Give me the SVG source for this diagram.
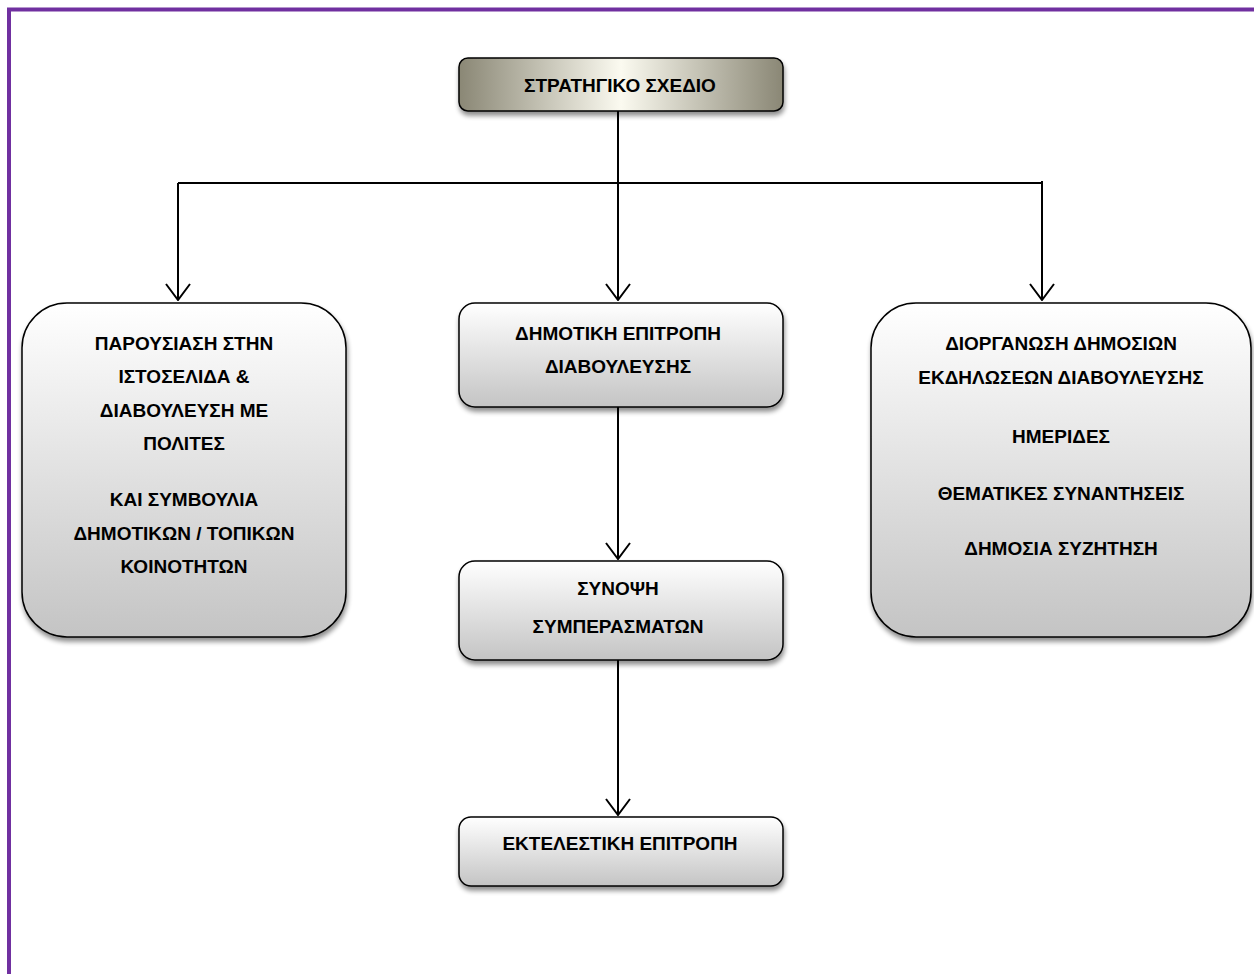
<svg xmlns="http://www.w3.org/2000/svg" width="1254" height="974" viewBox="0 0 1254 974">
<defs>
<linearGradient id="gTop" x1="0" y1="0" x2="1" y2="0">
<stop offset="0" stop-color="#8a8775"/>
<stop offset="0.5" stop-color="#fbfaf0"/>
<stop offset="1" stop-color="#8a8775"/>
</linearGradient>
<linearGradient id="gBox" x1="0" y1="0" x2="0" y2="1">
<stop offset="0" stop-color="#ffffff"/>
<stop offset="1" stop-color="#c4c4c4"/>
</linearGradient>
<filter id="sh" x="-10%" y="-10%" width="120%" height="130%">
<feGaussianBlur in="SourceAlpha" stdDeviation="2.5"/>
<feOffset dx="1" dy="4" result="b"/>
<feComponentTransfer><feFuncA type="linear" slope="0.45"/></feComponentTransfer>
<feMerge><feMergeNode/><feMergeNode in="SourceGraphic"/></feMerge>
</filter>
<marker id="arr" viewBox="0 0 18 26" refX="17" refY="13" markerWidth="18" markerHeight="26" markerUnits="userSpaceOnUse" orient="auto">
<path d="M1,1 L17,13 L1,25" fill="none" stroke="#000" stroke-width="2"/>
</marker>
</defs>
<style>
.box{stroke:#000;stroke-width:1.5;fill:url(#gBox);filter:url(#sh)}
.t{font-family:"Liberation Sans",Arial,sans-serif;font-weight:bold;font-size:19px;fill:#000;text-anchor:middle}
.c{fill:none;stroke:#000;stroke-width:2}
</style>
<rect width="1254" height="974" fill="#fff"/>
<path d="M9,974 V9.5 H1254" fill="none" stroke="#7030a0" stroke-width="4"/>
<g id="connectors">
<path class="c" d="M618,111 V183"/>
<path class="c" d="M178,183 H1042"/>
<path class="c" d="M178,183 V300" marker-end="url(#arr)"/>
<path class="c" d="M618,183 V300" marker-end="url(#arr)"/>
<path class="c" d="M1042,181 V300" marker-end="url(#arr)"/>
<path class="c" d="M618,407 V559" marker-end="url(#arr)"/>
<path class="c" d="M618,660 V815" marker-end="url(#arr)"/>
</g>
<g id="n_top">
<rect x="459" y="58" width="324" height="53" rx="9" stroke="#000" stroke-width="1.5" fill="url(#gTop)" filter="url(#sh)"/>
<text class="t" x="620" y="92">ΣΤΡΑΤΗΓΙΚΟ ΣΧΕΔΙΟ</text>
</g>
<g id="n_left">
<rect class="box" x="22" y="303" width="324" height="334" rx="45"/>
<text class="t" x="184" y="350">ΠΑΡΟΥΣΙΑΣΗ ΣΤΗΝ</text>
<text class="t" x="184" y="383">ΙΣΤΟΣΕΛΙΔΑ &amp;</text>
<text class="t" x="184" y="417">ΔΙΑΒΟΥΛΕΥΣΗ ΜΕ</text>
<text class="t" x="184" y="450">ΠΟΛΙΤΕΣ</text>
<text class="t" x="184" y="506">ΚΑΙ ΣΥΜΒΟΥΛΙΑ</text>
<text class="t" x="184" y="540">ΔΗΜΟΤΙΚΩΝ / ΤΟΠΙΚΩΝ</text>
<text class="t" x="184" y="573">ΚΟΙΝΟΤΗΤΩΝ</text>
</g>
<g id="n_committee">
<rect class="box" x="459" y="303" width="324" height="104" rx="16"/>
<text class="t" x="618" y="340">ΔΗΜΟΤΙΚΗ ΕΠΙΤΡΟΠΗ</text>
<text class="t" x="618" y="373">ΔΙΑΒΟΥΛΕΥΣΗΣ</text>
</g>
<g id="n_summary">
<rect class="box" x="459" y="561" width="324" height="99" rx="16"/>
<text class="t" x="618" y="595">ΣΥΝΟΨΗ</text>
<text class="t" x="618" y="633">ΣΥΜΠΕΡΑΣΜΑΤΩΝ</text>
</g>
<g id="n_exec">
<rect class="box" x="459" y="817" width="324" height="69" rx="12"/>
<text class="t" x="620" y="850">ΕΚΤΕΛΕΣΤΙΚΗ ΕΠΙΤΡΟΠΗ</text>
</g>
<g id="n_right">
<rect class="box" x="871" y="303" width="380" height="334" rx="45"/>
<text class="t" x="1061" y="350">ΔΙΟΡΓΑΝΩΣΗ ΔΗΜΟΣΙΩΝ</text>
<text class="t" x="1061" y="384">ΕΚΔΗΛΩΣΕΩΝ ΔΙΑΒΟΥΛΕΥΣΗΣ</text>
<text class="t" x="1061" y="443">ΗΜΕΡΙΔΕΣ</text>
<text class="t" x="1061" y="500">ΘΕΜΑΤΙΚΕΣ ΣΥΝΑΝΤΗΣΕΙΣ</text>
<text class="t" x="1061" y="555">ΔΗΜΟΣΙΑ ΣΥΖΗΤΗΣΗ</text>
</g>
</svg>
